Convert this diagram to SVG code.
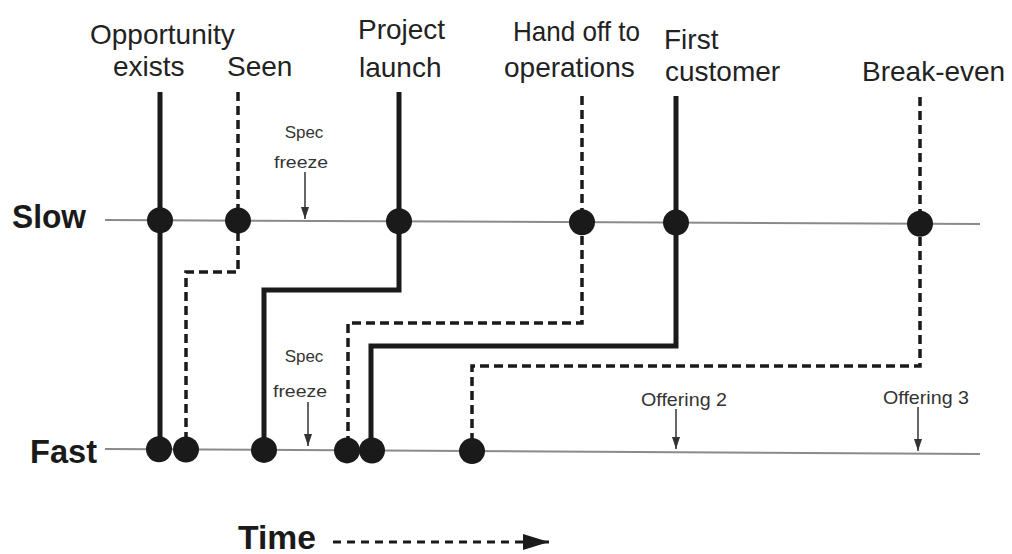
<svg xmlns="http://www.w3.org/2000/svg" width="1012" height="554" viewBox="0 0 1012 554">
<defs>
<marker id="ah" markerWidth="12" markerHeight="8" refX="12" refY="4" orient="auto" markerUnits="userSpaceOnUse" viewBox="0 0 12 8">
<path d="M0,0 L12,4 L0,8 Z" fill="#333"/>
</marker>
<marker id="big" markerWidth="26" markerHeight="16" refX="26" refY="8" orient="auto" markerUnits="userSpaceOnUse" viewBox="0 0 26 16">
<path d="M0,0 L26,8 L0,16 Z" fill="#1a1a1a"/>
</marker>
</defs>
<style>
.lbl{font-family:"Liberation Sans",Arial,sans-serif;font-size:28px;fill:#222}
.axis{font-family:"Liberation Sans",Arial,sans-serif;font-size:33px;font-weight:bold;fill:#1a1a1a}
.small{font-family:"Liberation Sans",Arial,sans-serif;font-size:17px;fill:#333}
.off{font-family:"Liberation Sans",Arial,sans-serif;font-size:19px;fill:#333}
.tl{stroke:#8a8a8a;stroke-width:2;fill:none}
.solid{stroke:#1a1a1a;stroke-width:5;fill:none}
.dash{stroke:#1a1a1a;stroke-width:3.5;fill:none;stroke-dasharray:9 5}
.dot{fill:#1a1a1a}
.pt{stroke:#333;stroke-width:1.5;fill:none}
</style>
<rect width="1012" height="554" fill="#fff"/>

<g id="timelines">
<line class="tl" x1="105" y1="220" x2="980" y2="224"/>
<line class="tl" x1="105" y1="449" x2="980" y2="454"/>
<text class="axis" x="12" y="228" textLength="74" lengthAdjust="spacingAndGlyphs">Slow</text>
<text class="axis" x="30" y="463" textLength="67" lengthAdjust="spacingAndGlyphs">Fast</text>
</g>

<g id="connectors">
<path class="solid" d="M160,92 V449"/>
<path class="dash" d="M238,92 V272 H186 V449"/>
<path class="solid" d="M399,92 V290 H264 V450"/>
<path class="dash" d="M582,96 V323 H348 V450"/>
<path class="solid" d="M676,96 V346 H371 V450"/>
<path class="dash" d="M920,97 V366 H472 V451"/>
</g>

<g id="opportunity-exists">
<text class="lbl" x="90" y="44">Opportunity</text>
<text class="lbl" x="113" y="76">exists</text>
<circle class="dot" cx="160" cy="220.3" r="13"/>
<circle class="dot" cx="159" cy="449.3" r="13"/>
</g>

<g id="seen">
<text class="lbl" x="227" y="76">Seen</text>
<circle class="dot" cx="238" cy="220.6" r="13"/>
<circle class="dot" cx="186" cy="449.5" r="13"/>
</g>

<g id="project-launch">
<text class="lbl" x="358" y="39">Project</text>
<text class="lbl" x="359" y="77">launch</text>
<circle class="dot" cx="399" cy="221.3" r="13"/>
<circle class="dot" cx="264" cy="449.9" r="13"/>
</g>

<g id="hand-off">
<text class="lbl" x="513" y="41" textLength="127" lengthAdjust="spacingAndGlyphs">Hand off to</text>
<text class="lbl" x="504" y="77">operations</text>
<circle class="dot" cx="582" cy="222.2" r="13"/>
<circle class="dot" cx="347" cy="450.4" r="13"/>
</g>

<g id="first-customer">
<text class="lbl" x="664" y="49">First</text>
<text class="lbl" x="665" y="81">customer</text>
<circle class="dot" cx="676" cy="222.6" r="13"/>
<circle class="dot" cx="372" cy="450.5" r="13"/>
</g>

<g id="break-even">
<text class="lbl" x="862" y="81">Break-even</text>
<circle class="dot" cx="920" cy="223.7" r="13"/>
<circle class="dot" cx="472" cy="451.1" r="13"/>
</g>

<g id="spec-freeze-slow">
<text class="small" x="304" y="138" text-anchor="middle">Spec</text>
<text class="small" x="301" y="168" text-anchor="middle" textLength="54" lengthAdjust="spacingAndGlyphs">freeze</text>
<line class="pt" x1="305" y1="172" x2="305" y2="219" marker-end="url(#ah)"/>
</g>

<g id="spec-freeze-fast">
<text class="small" x="304" y="362" text-anchor="middle">Spec</text>
<text class="small" x="300" y="397" text-anchor="middle" textLength="54" lengthAdjust="spacingAndGlyphs">freeze</text>
<line class="pt" x1="308" y1="402" x2="308" y2="446" marker-end="url(#ah)"/>
</g>

<g id="offering-2">
<text class="off" x="684" y="406" text-anchor="middle" textLength="86" lengthAdjust="spacingAndGlyphs">Offering 2</text>
<line class="pt" x1="676" y1="409" x2="676" y2="449" marker-end="url(#ah)"/>
</g>

<g id="offering-3">
<text class="off" x="926" y="404" text-anchor="middle" textLength="86" lengthAdjust="spacingAndGlyphs">Offering 3</text>
<line class="pt" x1="918" y1="407" x2="918" y2="451" marker-end="url(#ah)"/>
</g>

<g id="time">
<text class="axis" x="238" y="549" textLength="78" lengthAdjust="spacingAndGlyphs">Time</text>
<line x1="333" y1="542" x2="549" y2="542" stroke="#1a1a1a" stroke-width="3" stroke-dasharray="8 6" marker-end="url(#big)"/>
</g>
</svg>
